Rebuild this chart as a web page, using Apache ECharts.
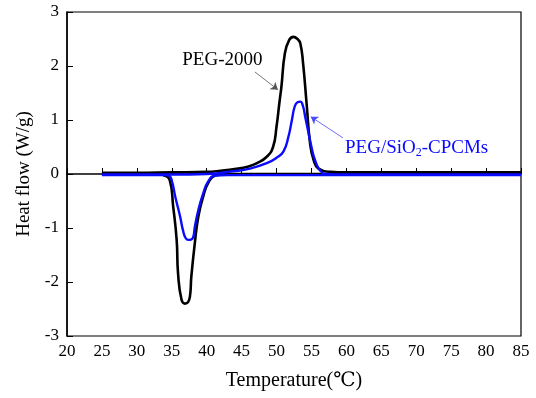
<!DOCTYPE html>
<html>
<head>
<meta charset="utf-8">
<script src="https://cdn.jsdelivr.net/npm/echarts@6/dist/echarts.min.js"></script>
<style>
  html, body { margin: 0; padding: 0; background: #fff; }
  #chart { width: 536px; height: 398px; }
</style>
</head>
<body>
<div id="chart"></div>
<script>
  // PEG-2000, heating (melting peak up) and cooling (crystallization peak down)
  var pegHeatT = [25, 30, 35, 40, 42, 44, 46, 47.2, 48.6, 49.5, 50.0, 50.4, 50.7, 51.2, 51.8, 52.4, 53.0, 53.4, 53.8, 54.3, 54.8, 55.3, 56.0, 57.7, 60, 70, 85]
  var pegHeatY = [0.02, 0.02, 0.03, 0.04, 0.06, 0.09, 0.14, 0.2, 0.32, 0.5, 0.88, 1.31, 1.62, 2.24, 2.48, 2.54, 2.5, 2.42, 2.05, 1.31, 0.57, 0.26, 0.1, 0.04, 0.03, 0.03, 0.03]
  var pegCoolT = [25, 30, 33, 33.8, 34.7, 35.2, 35.7, 35.9, 36.4, 36.9, 37.6, 37.8, 38.3, 38.8, 39.5, 40.2, 41.2, 43, 50, 60, 85]
  var pegCoolY = [0.0, 0.0, 0.0, -0.02, -0.11, -0.6, -1.22, -1.84, -2.33, -2.4, -2.27, -1.9, -1.28, -0.79, -0.42, -0.17, -0.03, 0.0, 0.0, 0.0, 0.0]

  // PEG/SiO2-CPCMs
  var cpHeatT = [25, 35, 40, 43.8, 46.2, 48.6, 50.0, 51.0, 51.7, 52.2, 52.6, 53.0, 53.4, 53.8, 54.1, 54.5, 55.0, 55.5, 56.2, 57, 60, 85]
  var cpHeatY = [-0.01, -0.01, 0.0, 0.05, 0.1, 0.2, 0.3, 0.42, 0.69, 1.0, 1.25, 1.33, 1.34, 1.25, 1.06, 0.81, 0.5, 0.26, 0.07, 0.0, -0.01, -0.01]
  var cpCoolT = [25, 30, 34, 34.6, 35.0, 35.5, 36.2, 36.6, 37.0, 37.4, 38.0, 38.3, 38.8, 39.5, 40.2, 41.2, 43, 60, 85]
  var cpCoolY = [-0.02, -0.02, -0.02, -0.03, -0.12, -0.42, -0.79, -1.04, -1.19, -1.22, -1.19, -0.98, -0.67, -0.36, -0.14, -0.03, -0.02, -0.02, -0.02]

  var xTicks = {min: 20, max: 85, interval: 5}
  var yTicks = {min: -3, max: 3, interval: 1}

  // annotation anchors (data space)
  var pegLabelAt = [36.5, 2.11]
  var pegArrow = [[46.9, 1.89], [50.2, 1.56]]
  var cpLabelAt = [59.8, 0.48]
  var cpArrow = [[59.5, 0.67], [54.9, 1.06]]

  var FONT = '"Liberation Serif", "DejaVu Serif", serif'

  function pairs (xs, ys) {
    return xs.map(function (x, i) { return [x, ys[i]] })
  }

  function curve (name, xs, ys, color, width) {
    return {
      name: name,
      type: 'line',
      data: pairs(xs, ys),
      showSymbol: false,
      smooth: 0.5,
      lineStyle: {color: color, width: width},
      silent: true,
      animation: false
    }
  }

  function arrow (pts, color) {
    return {
      silent: true,
      animation: false,
      symbol: ['none', 'arrow'],
      symbolSize: 7,
      label: {show: false},
      lineStyle: {color: color, width: 0.8, type: 'solid'},
      data: [[{coord: pts[0]}, {coord: pts[1]}]]
    }
  }

  var chart = echarts.init(document.getElementById('chart'))

  var s1 = curve('PEG-2000 heat', pegHeatT, pegHeatY, '#000', 2.6)
  var s2 = curve('PEG-2000 cool', pegCoolT, pegCoolY, '#000', 2.6)
  var s3 = curve('CPCM heat', cpHeatT, cpHeatY, '#0a0aff', 2.4)
  var s4 = curve('CPCM cool', cpCoolT, cpCoolY, '#0a0aff', 2.4)
  s1.markLine = arrow(pegArrow, '#555')
  s3.markLine = arrow(cpArrow, '#4a4aff')

  chart.setOption({
    backgroundColor: '#fff',
    animation: false,
    grid: {left: 67, right: 15, top: 12, bottom: 62, show: true, borderColor: '#000', borderWidth: 1.2},
    xAxis: {
      type: 'value',
      min: xTicks.min, max: xTicks.max, interval: xTicks.interval,
      name: 'Temperature(℃)',
      nameLocation: 'middle',
      nameGap: 35,
      nameTextStyle: {fontFamily: FONT, fontSize: 20, color: '#000'},
      axisLine: {lineStyle: {color: '#000', width: 1.5}},
      axisTick: {inside: true, length: 6, lineStyle: {color: '#000'}},
      axisLabel: {fontFamily: FONT, fontSize: 17, color: '#000', margin: 7},
      splitLine: {show: false}
    },
    yAxis: {
      type: 'value',
      min: yTicks.min, max: yTicks.max, interval: yTicks.interval,
      name: 'Heat flow (W/g)',
      nameLocation: 'middle',
      nameGap: 30,
      nameTextStyle: {fontFamily: FONT, fontSize: 19, color: '#000'},
      axisLine: {lineStyle: {color: '#000', width: 1.5}},
      axisTick: {inside: true, length: 6, lineStyle: {color: '#000'}},
      axisLabel: {fontFamily: FONT, fontSize: 17, color: '#000', margin: 8},
      splitLine: {show: false}
    },
    series: [s1, s2, s3, s4]
  })

  // place the text labels from data coordinates
  var p1 = chart.convertToPixel({gridIndex: 0}, pegLabelAt)
  var p2 = chart.convertToPixel({gridIndex: 0}, cpLabelAt)
  chart.setOption({
    graphic: [
      {
        type: 'text', left: p1[0], top: p1[1] - 10, silent: true,
        style: {text: 'PEG-2000', fill: '#000', font: '19px ' + FONT}
      },
      {
        type: 'text', left: p2[0], top: p2[1] - 10, silent: true,
        style: {
          text: '{a|PEG/SiO}{s|2}{a|-CPCMs}',
          rich: {
            a: {fill: '#0a0aff', fontFamily: FONT, fontSize: 19, lineHeight: 20},
            s: {fill: '#0a0aff', fontFamily: FONT, fontSize: 12, padding: [10, 0, 0, 0]}
          }
        }
      }
    ]
  })
</script>
</body>
</html>
